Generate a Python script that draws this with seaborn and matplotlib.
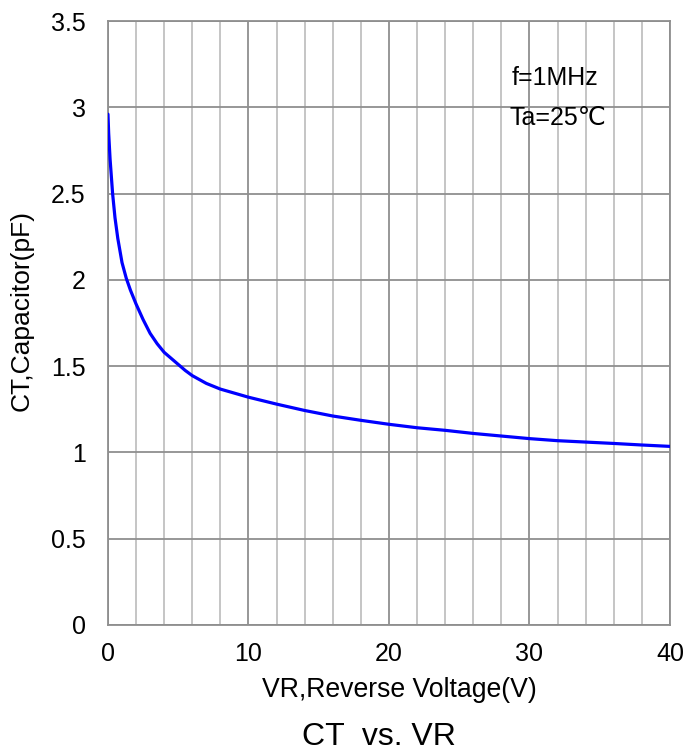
import seaborn as sns
import matplotlib.pyplot as plt
from matplotlib.ticker import MultipleLocator

# reverse voltage (V) and junction capacitance (pF)
vr = [0, 0.05, 0.15, 0.33, 0.5, 0.7, 1.0, 1.3, 1.6, 2, 2.5, 3, 3.5, 4, 4.5, 5, 5.5, 6, 7, 8,
      10, 12, 14, 16, 18, 20, 22, 24, 26, 28, 30, 32, 34, 36, 38, 40]
ct = [2.96, 2.85, 2.70, 2.50, 2.36, 2.24, 2.10, 2.01, 1.94, 1.86, 1.77, 1.69, 1.63, 1.58, 1.545, 1.51, 1.475, 1.445, 1.40, 1.367,
      1.32, 1.28, 1.243, 1.211, 1.186, 1.163, 1.143, 1.128, 1.110, 1.095, 1.080, 1.068, 1.060, 1.052, 1.043, 1.035]

notes = ["f=1MHz", "Ta=25℃"]

sns.set_style("white")
plt.rcParams['font.family'] = ['Liberation Sans', 'DejaVu Sans']
plt.rcParams['text.color'] = 'black'
plt.rcParams['axes.labelcolor'] = 'black'

fig = plt.figure(figsize=(6.89, 7.53), dpi=100)
ax = fig.add_axes([0.1567, 0.170, 0.8157, 0.8021])

major_c = "#8f8f8f"
minor_c = "#c0c0c0"

sns.lineplot(x=vr, y=ct, ax=ax, color="#0000ff", linewidth=2.3, estimator=None, zorder=5)

ax.set_xlim(0, 40)
ax.set_ylim(0, 3.5)
ax.xaxis.set_minor_locator(MultipleLocator(2))
ax.set_yticks([0, 0.5, 1, 1.5, 2, 2.5, 3, 3.5])
ax.set_yticklabels(["0", "0.5", "1", "1.5", "2", "2.5", "3", "3.5"])
ax.set_xticks([0, 10, 20, 30, 40])
ax.set_xticklabels(["0", "10", "20", "30", "40"])

ax.grid(True, which="major", color=major_c, linewidth=1.3)
ax.grid(True, which="minor", axis="x", color=minor_c, linewidth=1.3)
ax.set_axisbelow(True)
for sp in ax.spines.values():
    sp.set_color(major_c)
    sp.set_linewidth(1.3)

ax.tick_params(axis="both", which="major", direction="out", length=6, width=1.2,
               color=major_c, labelsize=18, labelcolor="black")
ax.tick_params(axis="y", which="major", pad=10)
ax.tick_params(axis="x", which="major", pad=6)
ax.tick_params(axis="both", which="minor", length=0)

ax.set_xlabel("VR,Reverse Voltage(V)", fontsize=19.2, va="center")
ax.set_ylabel("CT,Capacitor(pF)", fontsize=19, va="center")
ax.xaxis.set_label_coords(0.518, -0.1076)
ax.yaxis.set_label_coords(-0.153, 0.52)

ax.text(28.7, 3.17, notes[0], fontsize=18, va="center", ha="left")
ax.text(28.6, 2.94, notes[1], fontsize=18, va="center", ha="left")

fig.text(379 / 689, 8 / 753, "CT  vs. VR", fontsize=23, ha="center", va="baseline")

fig.savefig("out.png", dpi=100)
plt.close(fig)
